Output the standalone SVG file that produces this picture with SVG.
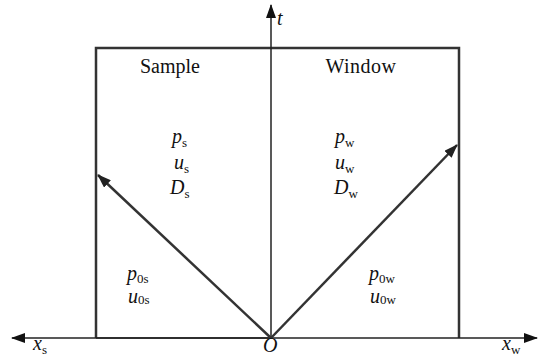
<svg xmlns="http://www.w3.org/2000/svg" width="539" height="356" viewBox="0 0 539 356">
<defs>
<marker id="ah" viewBox="0 0 14 10" refX="13" refY="5" markerWidth="14" markerHeight="10" markerUnits="userSpaceOnUse" orient="auto">
<path d="M0,0 L14,5 L0,10 Z" fill="#111"/>
</marker>
<marker id="ah2" viewBox="0 0 14 10" refX="13" refY="5" markerWidth="14" markerHeight="10" markerUnits="userSpaceOnUse" orient="auto">
<path d="M0,0 L14,5 L0,10 Z" fill="#222"/>
</marker>
</defs>
<style>
.box{fill:none;stroke:#333;stroke-width:2.5}
.axis{stroke:#222;stroke-width:1.5;fill:none}
.wave{stroke:#333;stroke-width:2.5;fill:none}
.lbl{font-size:20px}
.v{font-style:italic;font-size:20px}
.sub{font-style:normal;font-size:13px}
</style>
<rect width="539" height="356" fill="#fff"/>
<g id="frame">
<path class="box" d="M96,338 V48 H459 V338"/>
</g>
<g id="connectors">
<line class="axis" x1="271" y1="338" x2="12" y2="338" marker-end="url(#ah)"/>
<line class="axis" x1="96" y1="338" x2="537" y2="338" marker-end="url(#ah)"/>
<line class="axis" x1="271" y1="338" x2="271" y2="5" marker-end="url(#ah)"/>
<line class="wave" x1="271" y1="338" x2="98" y2="175" marker-end="url(#ah2)"/>
<line class="wave" x1="271" y1="338" x2="457" y2="145" marker-end="url(#ah2)"/>
</g>
<g font-family="Liberation Serif, serif" fill="#111">
<g id="sample">
<text class="lbl" x="170" y="73" text-anchor="middle">Sample</text>
<text class="v" x="172" y="143">p<tspan class="sub" dy="4">s</tspan></text>
<text class="v" x="174" y="169">u<tspan class="sub" dy="4">s</tspan></text>
<text class="v" x="170" y="194">D<tspan class="sub" dy="4">s</tspan></text>
<text class="v" x="127" y="280">p<tspan class="sub" dy="3">0s</tspan></text>
<text class="v" x="128" y="303">u<tspan class="sub" dy="1">0s</tspan></text>
</g>
<g id="window">
<text class="lbl" x="361" y="73" text-anchor="middle" letter-spacing="0.5">Window</text>
<text class="v" x="335" y="143">p<tspan class="sub" dy="4">w</tspan></text>
<text class="v" x="335" y="169">u<tspan class="sub" dy="4">w</tspan></text>
<text class="v" x="334" y="194">D<tspan class="sub" dy="4">w</tspan></text>
<text class="v" x="369" y="280">p<tspan class="sub" dy="3">0w</tspan></text>
<text class="v" x="370" y="303">u<tspan class="sub" dy="1">0w</tspan></text>
</g>
<g id="axis-labels">
<text class="v" x="277" y="25">t</text>
<text class="v" x="33" y="350">x<tspan class="sub" dy="4">s</tspan></text>
<text class="v" x="502" y="350">x<tspan class="sub" dy="4">w</tspan></text>
<text class="v" x="263" y="352">O</text>
</g>
</g>
</svg>
